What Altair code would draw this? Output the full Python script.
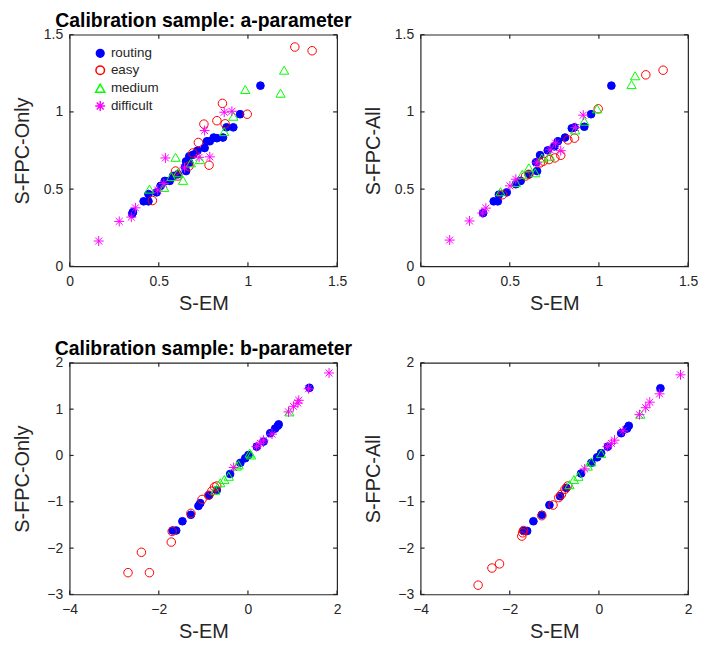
import altair as alt
import pandas as pd

CATS = ["routing", "easy", "medium", "difficult"]
COLORS = ["#0000FF", "#FF0000", "#00FF00", "#FF00FF"]
FILLS = ["#0000FF", "transparent", "transparent", "transparent"]
ASTERISK = "M0,-1L0,1M-1,0L1,0M-0.7,-0.7L0.7,0.7M-0.7,0.7L0.7,-0.7"
SHAPES = ["circle", "circle", "triangle-up", ASTERISK]
SIZES = [60, 100, 100, 70]

# ---- top-left: a-parameter, S-FPC-Only vs S-EM
a_only_routing_x = [1.07, 0.956, 0.918, 0.88, 0.86, 0.826, 0.808, 0.786, 0.77, 0.757, 0.717, 0.693, 0.671, 0.653, 0.647, 0.671, 0.653, 0.607, 0.58, 0.561, 0.534, 0.51, 0.488, 0.442, 0.442, 0.415, 0.355, 0.351]
a_only_routing_y = [1.17, 0.985, 0.90, 0.90, 0.834, 0.83, 0.834, 0.81, 0.81, 0.766, 0.749, 0.723, 0.713, 0.68, 0.643, 0.67, 0.617, 0.596, 0.585, 0.553, 0.553, 0.521, 0.479, 0.468, 0.421, 0.421, 0.351, 0.34]
a_only_easy_x = [1.263, 1.36, 0.996, 0.857, 0.826, 0.872, 0.753, 0.722, 0.691, 0.669, 0.782, 0.594, 0.607, 0.464]
a_only_easy_y = [1.42, 1.396, 0.985, 1.055, 0.943, 0.923, 0.921, 0.802, 0.734, 0.649, 0.655, 0.617, 0.585, 0.426]
a_only_medium_x = [1.203, 0.985, 1.183, 0.918, 0.867, 0.594, 0.68, 0.731, 0.607, 0.57, 0.636, 0.448, 0.53]
a_only_medium_y = [1.27, 1.145, 1.121, 0.972, 0.872, 0.706, 0.67, 0.691, 0.606, 0.581, 0.557, 0.5, 0.511]
a_only_difficult_x = [0.163, 0.278, 0.346, 0.369, 0.494, 0.528, 0.537, 0.644, 0.726, 0.786, 0.757, 0.867, 0.91]
a_only_difficult_y = [0.164, 0.291, 0.319, 0.379, 0.494, 0.536, 0.702, 0.638, 0.706, 0.709, 0.879, 0.998, 1.004]

# ---- top-right: a-parameter, S-FPC-All vs S-EM
a_all_routing_x = [1.07, 0.956, 0.918, 0.863, 0.848, 0.81, 0.77, 0.75, 0.713, 0.67, 0.647, 0.653, 0.607, 0.561, 0.534, 0.483, 0.439, 0.433, 0.41, 0.351]
a_all_routing_y = [1.17, 0.985, 0.904, 0.90, 0.894, 0.834, 0.81, 0.777, 0.751, 0.72, 0.674, 0.617, 0.596, 0.553, 0.532, 0.479, 0.464, 0.421, 0.421, 0.345]
a_all_easy_x = [1.36, 1.263, 0.996, 0.863, 0.826, 0.786, 0.753, 0.72, 0.689, 0.671, 0.607, 0.589, 0.46]
a_all_easy_y = [1.27, 1.24, 1.02, 0.83, 0.819, 0.719, 0.702, 0.691, 0.681, 0.67, 0.596, 0.585, 0.464]
a_all_medium_x = [1.203, 1.183, 0.99, 0.918, 0.867, 0.726, 0.68, 0.607, 0.57, 0.643, 0.534, 0.448]
a_all_medium_y = [1.234, 1.177, 1.02, 0.94, 0.883, 0.713, 0.702, 0.638, 0.596, 0.606, 0.543, 0.483]
a_all_difficult_x = [0.163, 0.274, 0.346, 0.366, 0.501, 0.534, 0.653, 0.726, 0.757, 0.786, 0.868, 0.912]
a_all_difficult_y = [0.17, 0.294, 0.345, 0.377, 0.521, 0.564, 0.67, 0.755, 0.798, 0.749, 0.898, 0.979]

# ---- bottom-left: b-parameter, S-FPC-Only vs S-EM
b_only_routing_x = [-1.61, -1.69, -1.47, -1.28, -1.11, -1.07, -0.87, -0.70, -0.40, -0.17, -0.06, 0.01, 0.20, 0.35, 0.50, 0.61, 0.67, 0.69, 1.38]
b_only_routing_y = [-1.62, -1.62, -1.42, -1.28, -1.09, -1.03, -0.86, -0.75, -0.40, -0.16, -0.06, 0.01, 0.19, 0.30, 0.48, 0.58, 0.64, 0.67, 1.46]
b_only_easy_x = [-2.69, -2.21, -2.39, -1.72, -1.70, -1.28, -1.03, -0.88, -0.81, -0.75, -0.70]
b_only_easy_y = [-2.53, -2.53, -2.09, -1.87, -1.64, -1.25, -0.95, -0.86, -0.77, -0.68, -0.66]
b_only_medium_x = [-0.73, -0.62, -0.53, -0.43, -0.25, -0.21, 0.04, 0.07, 0.93]
b_only_medium_y = [-0.75, -0.59, -0.52, -0.45, -0.23, -0.20, 0.05, 0.01, 0.94]
b_only_difficult_x = [1.82, 1.36, 1.14, 1.12, 1.02, 0.91, 0.54, 0.35, 0.28, 0.19, -0.32]
b_only_difficult_y = [1.78, 1.44, 1.19, 1.13, 1.06, 0.94, 0.46, 0.33, 0.26, 0.19, -0.26]

# ---- bottom-right: b-parameter, S-FPC-All vs S-EM
b_all_routing_x = [1.38, 0.67, 0.63, 0.50, 0.20, 0.05, -0.04, -0.17, -0.40, -0.73, -0.87, -1.11, -1.28, -1.47, -1.61, -1.69]
b_all_routing_y = [1.45, 0.64, 0.58, 0.48, 0.19, 0.05, -0.04, -0.16, -0.39, -0.70, -0.88, -1.07, -1.28, -1.42, -1.63, -1.63]
b_all_easy_x = [-2.71, -2.40, -2.23, -1.73, -1.71, -1.69, -1.28, -1.03, -0.90, -0.84, -0.76, -0.70]
b_all_easy_y = [-2.80, -2.43, -2.34, -1.74, -1.67, -1.62, -1.30, -1.07, -0.91, -0.84, -0.73, -0.66]
b_all_medium_x = [0.93, 0.05, -0.17, -0.25, -0.46, -0.56, -0.66]
b_all_medium_y = [0.89, 0.04, -0.14, -0.23, -0.45, -0.52, -0.63]
b_all_difficult_x = [1.83, 1.36, 1.14, 1.05, 0.91, 0.54, 0.35, 0.28, 0.19, -0.32]
b_all_difficult_y = [1.74, 1.33, 1.15, 1.03, 0.88, 0.53, 0.33, 0.26, 0.19, -0.29]

A_TICKS = [0, 0.5, 1, 1.5]
B_XTICKS = [-4, -2, 0, 2]
B_YTICKS = [-3, -2, -1, 0, 1, 2]

W, H = 269, 233
TICK = 4
AXC = "#262626"
FONT = "Liberation Sans"


def frame(series):
    rows = []
    for cat, (xs, ys) in zip(CATS, series):
        for x, y in zip(xs, ys):
            rows.append({"x": x, "y": y, "type": cat})
    return pd.DataFrame(rows)


def panel(df, xdom, ydom, xticks, yticks, ytitle, title=None, legend=False):
    xs = alt.Scale(domain=xdom, nice=False, zero=False)
    ys = alt.Scale(domain=ydom, nice=False, zero=False)
    xaxis = alt.Axis(values=xticks, title="S-EM", format="~g", grid=False, ticks=False,
                     domain=False, labelPadding=8, titlePadding=5, labelFontSize=14,
                     titleFontSize=20, titleFontWeight="normal", labelColor=AXC,
                     titleColor=AXC, labelFont=FONT, titleFont=FONT, labelFlush=False,
                     labelOverlap=False)
    yaxis = alt.Axis(values=yticks, title=ytitle, format="~g", grid=False, ticks=False,
                     domain=False, labelPadding=7, titleX=-37, labelFontSize=14,
                     titleFontSize=20, titleFontWeight="normal", labelColor=AXC,
                     titleColor=AXC, labelFont=FONT, titleFont=FONT, labelFlush=False,
                     labelOverlap=False)
    if legend:
        leg = alt.Legend(title=None, orient="none", legendX=24, legendY=12,
                         labelFontSize=13.5, labelColor=AXC)
    else:
        leg = None
    # rows are already in drawing order: routing, easy, medium, difficult
    pts = alt.Chart(df).mark_point(filled=False, strokeWidth=1, opacity=1).encode(
        x=alt.X("x:Q", scale=xs, axis=xaxis),
        y=alt.Y("y:Q", scale=ys, axis=yaxis),
        color=alt.Color("type:N", scale=alt.Scale(domain=CATS, range=COLORS), legend=leg),
        fill=alt.Fill("type:N", scale=alt.Scale(domain=CATS, range=FILLS), legend=leg),
        shape=alt.Shape("type:N", scale=alt.Scale(domain=CATS, range=SHAPES), legend=leg),
        size=alt.Size("type:N", scale=alt.Scale(domain=CATS, range=SIZES), legend=leg),
    )
    xt = pd.DataFrame({"x": xticks})
    yt = pd.DataFrame({"y": yticks})
    xbot = alt.Chart(xt).mark_rule(color=AXC, strokeWidth=1.2).encode(
        x=alt.X("x:Q", scale=xs), y=alt.value(H), y2=alt.value(H - TICK))
    xtop = alt.Chart(xt).mark_rule(color=AXC, strokeWidth=1.2).encode(
        x=alt.X("x:Q", scale=xs), y=alt.value(0), y2=alt.value(TICK))
    yl = alt.Chart(yt).mark_rule(color=AXC, strokeWidth=1.2).encode(
        y=alt.Y("y:Q", scale=ys), x=alt.value(0), x2=alt.value(TICK))
    yr = alt.Chart(yt).mark_rule(color=AXC, strokeWidth=1.2).encode(
        y=alt.Y("y:Q", scale=ys), x=alt.value(W), x2=alt.value(W - TICK))
    ch = alt.layer(xbot, xtop, yl, yr, pts).properties(width=W, height=H)
    if title:
        ch = ch.properties(title=alt.TitleParams(title, fontSize=19.5, fontWeight="bold",
                                                 offset=-4))
    return ch


tl = panel(frame([(a_only_routing_x, a_only_routing_y), (a_only_easy_x, a_only_easy_y),
                  (a_only_medium_x, a_only_medium_y), (a_only_difficult_x, a_only_difficult_y)]),
           [0, 1.5], [0, 1.5], A_TICKS, A_TICKS, "S-FPC-Only",
           title="Calibration sample: a-parameter", legend=True)
tr = panel(frame([(a_all_routing_x, a_all_routing_y), (a_all_easy_x, a_all_easy_y),
                  (a_all_medium_x, a_all_medium_y), (a_all_difficult_x, a_all_difficult_y)]),
           [0, 1.5], [0, 1.5], A_TICKS, A_TICKS, "S-FPC-All")
bl = panel(frame([(b_only_routing_x, b_only_routing_y), (b_only_easy_x, b_only_easy_y),
                  (b_only_medium_x, b_only_medium_y), (b_only_difficult_x, b_only_difficult_y)]),
           [-4, 2], [-3, 2], B_XTICKS, B_YTICKS, "S-FPC-Only",
           title="Calibration sample: b-parameter")
br = panel(frame([(b_all_routing_x, b_all_routing_y), (b_all_easy_x, b_all_easy_y),
                  (b_all_medium_x, b_all_medium_y), (b_all_difficult_x, b_all_difficult_y)]),
           [-4, 2], [-3, 2], B_XTICKS, B_YTICKS, "S-FPC-All")

chart = alt.concat(tl, tr, bl, br, columns=2, spacing={"row": 97, "column": 84},
                   bounds="flush").resolve_scale(
    color="independent", fill="independent", shape="independent", size="independent"
).resolve_legend(
    color="independent", fill="independent", shape="independent", size="independent"
).properties(
    padding={"left": 4, "top": 0, "right": 0, "bottom": 0},
    background="white",
).configure_view(stroke=AXC, strokeWidth=1.2)

chart.save("out.html", embed_options={"renderer": "svg", "actions": False})
